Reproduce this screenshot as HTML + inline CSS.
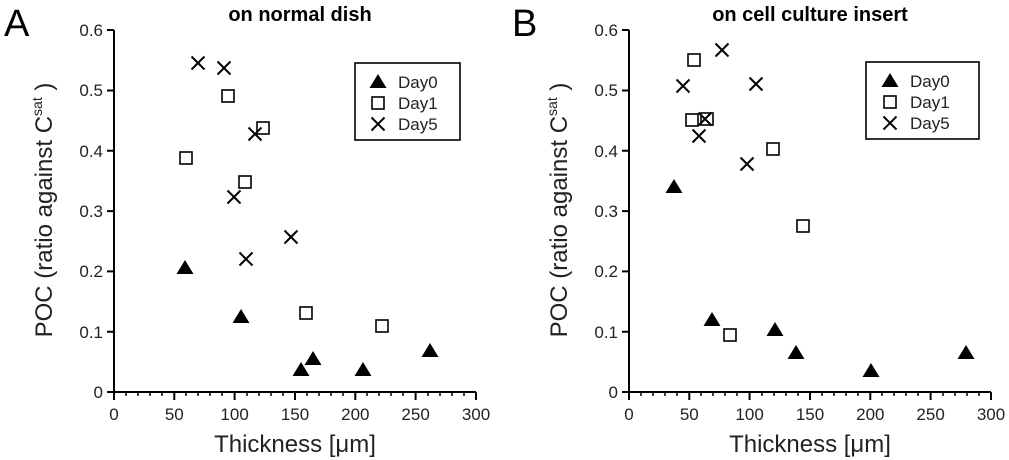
<!DOCTYPE html>
<html><head><meta charset="utf-8"><style>
body{margin:0;background:#fff}
svg{display:block;font-family:"Liberation Sans",Arial,sans-serif}
.t{font-size:17px;fill:#222}
.a{font-size:24px;fill:#222}
</style></head><body>
<svg width="1009" height="460" viewBox="0 0 1009 460" xmlns="http://www.w3.org/2000/svg">
<defs>
<g id="tri"><polygon points="0,-8 8.5,6 -8.5,6" fill="#000"/></g>
<g id="sq"><rect x="-6" y="-6" width="12" height="12" fill="none" stroke="#000" stroke-width="1.6"/></g>
<g id="x"><path d="M-6.5,-6.5L6.5,6.5M-6.5,6.5L6.5,-6.5" stroke="#000" stroke-width="2"/></g>
<g id="axes" stroke="#000" stroke-width="2" fill="none">
<path d="M0,-362V0H362"/>
<path d="M-7,0H0M-7,-60.3H0M-7,-120.6H0M-7,-180.9H0M-7,-241.2H0M-7,-301.5H0M-7,-362H0"/>
<path d="M0,0v8M60.3,0v8M120.6,0v8M181,0v8M241.3,0v8M301.6,0v8M362,0v8"/>
<path stroke-width="1.5" d="M12,0v4M24,0v4M36,0v4M48,0v4M72,0v4M84,0v4M96,0v4M108,0v4M133,0v4M145,0v4M157,0v4M169,0v4M193,0v4M205,0v4M217,0v4M229,0v4M253,0v4M265,0v4M277,0v4M289,0v4M314,0v4M326,0v4M338,0v4M350,0v4"/>
</g>
</defs>
<text x="4" y="36" font-size="38">A</text>
<text x="300" y="21" font-size="20" font-weight="bold" text-anchor="middle">on normal dish</text>
<text x="512" y="36" font-size="38">B</text>
<text x="810" y="21" font-size="20" font-weight="bold" text-anchor="middle">on cell culture insert</text>

<g transform="translate(114,392)">
<use href="#axes"/>
<g text-anchor="end" class="t"><text x="-11" y="6">0</text><text x="-11" y="-54">0.1</text><text x="-11" y="-115">0.2</text><text x="-11" y="-175">0.3</text><text x="-11" y="-235">0.4</text><text x="-11" y="-296">0.5</text><text x="-11" y="-356">0.6</text></g>
<g text-anchor="middle" class="t"><text x="0" y="28">0</text><text x="60.3" y="28">50</text><text x="120.6" y="28">100</text><text x="181" y="28">150</text><text x="241.3" y="28">200</text><text x="301.6" y="28">250</text><text x="362" y="28">300</text></g>
<text x="181" y="60" class="a" text-anchor="middle">Thickness [μm]</text>
<text transform="translate(-62,-182) rotate(-90)" class="a" text-anchor="middle">POC (ratio against C<tspan font-size="14" dy="-10">sat</tspan><tspan dy="10"> )</tspan></text>
</g>
<g transform="translate(629,392)">
<use href="#axes"/>
<g text-anchor="end" class="t"><text x="-11" y="6">0</text><text x="-11" y="-54">0.1</text><text x="-11" y="-115">0.2</text><text x="-11" y="-175">0.3</text><text x="-11" y="-235">0.4</text><text x="-11" y="-296">0.5</text><text x="-11" y="-356">0.6</text></g>
<g text-anchor="middle" class="t"><text x="0" y="28">0</text><text x="60.3" y="28">50</text><text x="120.6" y="28">100</text><text x="181" y="28">150</text><text x="241.3" y="28">200</text><text x="301.6" y="28">250</text><text x="362" y="28">300</text></g>
<text x="181" y="60" class="a" text-anchor="middle">Thickness [μm]</text>
<text transform="translate(-62,-182) rotate(-90)" class="a" text-anchor="middle">POC (ratio against C<tspan font-size="14" dy="-10">sat</tspan><tspan dy="10"> )</tspan></text>
</g>

<rect x="355" y="63" width="105" height="77" fill="none" stroke="#000" stroke-width="1.6"/>
<use href="#tri" x="378" y="82"/><use href="#sq" x="378" y="103"/><use href="#x" x="378" y="124"/>
<g class="t"><text x="398" y="88">Day0</text><text x="398" y="109">Day1</text><text x="398" y="130">Day5</text></g>
<rect x="866" y="62" width="113" height="77" fill="none" stroke="#000" stroke-width="1.6"/>
<use href="#tri" x="890" y="81"/><use href="#sq" x="890" y="102"/><use href="#x" x="890" y="123"/>
<g class="t"><text x="910" y="87">Day0</text><text x="910" y="108">Day1</text><text x="910" y="129">Day5</text></g>

<use href="#tri" x="185" y="268"/><use href="#tri" x="241" y="317"/><use href="#tri" x="301" y="370"/><use href="#tri" x="313" y="359"/><use href="#tri" x="363" y="370"/><use href="#tri" x="430" y="351"/>
<use href="#sq" x="186" y="158"/><use href="#sq" x="228" y="96"/><use href="#sq" x="263" y="128"/><use href="#sq" x="245" y="182"/><use href="#sq" x="306" y="313"/><use href="#sq" x="382" y="326"/>
<use href="#x" x="198" y="63"/><use href="#x" x="224" y="68"/><use href="#x" x="255" y="134"/><use href="#x" x="234" y="197"/><use href="#x" x="291" y="237"/><use href="#x" x="246" y="259"/>

<use href="#tri" x="674" y="187"/><use href="#tri" x="712" y="320"/><use href="#tri" x="775" y="330"/><use href="#tri" x="796" y="353"/><use href="#tri" x="871" y="371"/><use href="#tri" x="966" y="353"/>
<use href="#sq" x="694" y="60"/><use href="#sq" x="692" y="120"/><use href="#sq" x="707" y="119"/><use href="#sq" x="730" y="335"/><use href="#sq" x="773" y="149"/><use href="#sq" x="803" y="226"/>
<use href="#x" x="683" y="86"/><use href="#x" x="722" y="50"/><use href="#x" x="699" y="136"/><use href="#x" x="705" y="119"/><use href="#x" x="756" y="84"/><use href="#x" x="747" y="164"/>
</svg>
</body></html>
